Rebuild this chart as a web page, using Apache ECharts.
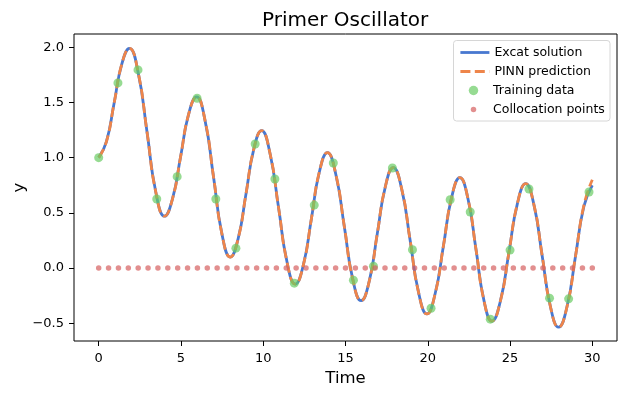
<!DOCTYPE html>
<html>
<head>
<meta charset="utf-8">
<script src="https://cdn.jsdelivr.net/npm/echarts@6/dist/echarts.min.js"></script>
<style>
    html, body { margin: 0; padding: 0; background: #fff; }
    #chart { width: 626px; height: 396px; }
</style>
</head>
<body>
<div id="chart"></div>
<script>
// curve (peaks, troughs and points between them)
const exactT = [0, 0.47, 0.94, 1.40, 1.87, 2.40, 2.94, 3.47, 4.00, 4.49, 4.98, 5.46, 5.95, 6.46, 6.98, 7.49, 8.00, 8.48, 8.95, 9.43, 9.90, 10.41, 10.93, 11.44, 11.95, 12.44, 12.93, 13.41, 13.90, 14.41, 14.93, 15.44, 15.95, 16.44, 16.93, 17.41, 17.90, 18.41, 18.93, 19.44, 19.95, 20.45, 20.95, 21.45, 21.95, 22.44, 22.93, 23.41, 23.90, 24.41, 24.93, 25.44, 25.95, 26.45, 26.95, 27.45, 27.95, 28.46, 28.98, 29.49, 30.00];
const exactY = [1.00, 1.145, 1.495, 1.845, 1.99, 1.77, 1.23, 0.69, 0.47, 0.63, 1.01, 1.39, 1.55, 1.34, 0.825, 0.31, 0.10, 0.27, 0.67, 1.08, 1.245, 1.04, 0.55, 0.06, -0.145, 0.03, 0.45, 0.87, 1.045, 0.85, 0.375, -0.10, -0.295, -0.12, 0.31, 0.73, 0.91, 0.72, 0.25, -0.22, -0.415, -0.23, 0.20, 0.64, 0.82, 0.63, 0.17, -0.29, -0.48, -0.30, 0.14, 0.58, 0.765, 0.575, 0.115, -0.345, -0.535, -0.35, 0.11, 0.56, 0.75];
const pinnY = [1.00, 1.145, 1.495, 1.845, 1.99, 1.77, 1.23, 0.69, 0.47, 0.63, 1.01, 1.39, 1.55, 1.34, 0.825, 0.31, 0.10, 0.27, 0.67, 1.08, 1.245, 1.04, 0.55, 0.06, -0.145, 0.03, 0.45, 0.87, 1.045, 0.85, 0.375, -0.10, -0.295, -0.12, 0.31, 0.73, 0.91, 0.72, 0.25, -0.22, -0.415, -0.23, 0.20, 0.64, 0.82, 0.63, 0.17, -0.29, -0.48, -0.30, 0.14, 0.58, 0.765, 0.575, 0.115, -0.345, -0.535, -0.35, 0.11, 0.57, 0.80];

const trainT = [0, 1.17, 2.39, 3.53, 4.77, 5.98, 7.12, 8.34, 9.51, 10.71, 11.89, 13.10, 14.26, 15.48, 16.70, 17.85, 19.07, 20.20, 21.36, 22.58, 23.80, 25.00, 26.15, 27.40, 28.56, 29.80];
const trainY = [1.00, 1.677, 1.795, 0.626, 0.828, 1.538, 0.626, 0.181, 1.124, 0.807, -0.136, 0.571, 0.952, -0.109, 0.018, 0.907, 0.166, -0.363, 0.619, 0.508, -0.462, 0.163, 0.716, -0.272, -0.278, 0.689];

const collocT = [0, 0.6, 1.2, 1.8, 2.4, 3.0, 3.6, 4.2, 4.8, 5.4, 6.0, 6.6, 7.2, 7.8, 8.4, 9.0, 9.6, 10.2, 10.8, 11.4, 12.0, 12.6, 13.2, 13.8, 14.4, 15.0, 15.6, 16.2, 16.8, 17.4, 18.0, 18.6, 19.2, 19.8, 20.4, 21.0, 21.6, 22.2, 22.8, 23.4, 24.0, 24.6, 25.2, 25.8, 26.4, 27.0, 27.6, 28.2, 28.8, 29.4, 30.0];
const collocY = [0, 0, 0, 0, 0, 0, 0, 0, 0, 0, 0, 0, 0, 0, 0, 0, 0, 0, 0, 0, 0, 0, 0, 0, 0, 0, 0, 0, 0, 0, 0, 0, 0, 0, 0, 0, 0, 0, 0, 0, 0, 0, 0, 0, 0, 0, 0, 0, 0, 0, 0];

const xTicks = [0, 5, 10, 15, 20, 25, 30];
const yTicks = [-0.5, 0, 0.5, 1.0, 1.5, 2.0];

const pairs = (xs, ys) => xs.map((x, i) => [x, ys[i]]);

const font = 'DejaVu Sans';
const chart = echarts.init(document.getElementById('chart'), null, { renderer: 'canvas' });

let legendText = { fontFamily: font, fontSize: 12.5, color: '#000', lineHeight: 14 };

let option = {
    animation: false,
    title: {
        text: 'Primer Oscillator',
        left: 262,
        top: 0,
        padding: [11, 0, 0, 0],
        textStyle: { fontFamily: font, fontSize: 20, fontWeight: 'normal', color: '#000' }
    },
    grid: {
        left: 74, right: 9, top: 34, bottom: 55,
        outerBoundsMode: 'none',
        show: true, borderColor: '#000', borderWidth: 1, backgroundColor: 'transparent'
    },
    // three legends so each marker gets its own size; the item box is laid out
    // from its drawn bounds, so the small circles need a shifted left
    legend: [{
        data: ['Excat solution', 'PINN prediction'],
        orient: 'vertical', left: 459, top: 45.5, padding: 0,
        itemWidth: 29, itemHeight: 14, itemGap: 5,
        itemStyle: { opacity: 0 },
        lineStyle: { width: 2.8 },
        selectedMode: false, textStyle: legendText
    }, {
        data: ['Training data'],
        orient: 'vertical', left: 468.75, top: 83.5, padding: 0,
        itemWidth: 29, itemHeight: 9.5,
        selectedMode: false, textStyle: legendText
    }, {
        data: ['Collocation points'],
        orient: 'vertical', left: 470.75, top: 102.5, padding: 0,
        itemWidth: 29, itemHeight: 5.5,
        selectedMode: false, textStyle: legendText
    }],
    graphic: [{
        type: 'rect', z: 3,
        shape: { x: 453.5, y: 40.5, width: 156.5, height: 80.5, r: 3 },
        style: { fill: 'rgba(255,255,255,0.8)', stroke: '#d6d6d6', lineWidth: 1 }
    }],
    xAxis: {
        type: 'value', min: -1.5, max: 31.5,
        name: 'Time', nameLocation: 'middle', nameGap: 29,
        nameMoveOverlap: false,
        nameTextStyle: { fontFamily: font, fontSize: 16.5, color: '#000' },
        axisLine: { show: false, onZero: false },
        axisTick: { show: true, length: 5, customValues: xTicks, lineStyle: { color: '#000' } },
        axisLabel: { customValues: xTicks, margin: 11, fontFamily: font, fontSize: 13, color: '#000' },
        splitLine: { show: false }
    },
    yAxis: {
        type: 'value', min: -0.66, max: 2.12,
        name: 'y', nameLocation: 'middle', nameGap: 46, nameRotate: 90,
        nameMoveOverlap: false,
        nameTextStyle: { fontFamily: font, fontSize: 16.5, color: '#000' },
        axisLine: { show: false, onZero: false },
        axisTick: { show: true, length: 5, customValues: yTicks, lineStyle: { color: '#000' } },
        axisLabel: {
            customValues: yTicks, margin: 10, fontFamily: font, fontSize: 13, color: '#000',
            formatter: v => (v < 0 ? '\u2212' : '') + Math.abs(v).toFixed(1)
        },
        splitLine: { show: false }
    },
    series: [{
        name: 'Excat solution',
        type: 'line',
        data: pairs(exactT, exactY),
        smooth: 0.5,
        symbol: 'none',
        z: 2,
        lineStyle: { color: '#4878d0', width: 2.8 },
        itemStyle: { color: '#4878d0' }
    }, {
        name: 'PINN prediction',
        type: 'line',
        data: pairs(exactT, pinnY),
        smooth: 0.5,
        symbol: 'none',
        z: 3,
        lineStyle: { color: '#ee854a', width: 2.8, type: [10, 4.4] },
        itemStyle: { color: '#ee854a' }
    }, {
        name: 'Training data',
        type: 'scatter',
        data: pairs(trainT, trainY),
        symbolSize: 9,
        z: 4,
        itemStyle: { color: '#6acc64', opacity: 0.7 }
    }, {
        name: 'Collocation points',
        type: 'scatter',
        data: pairs(collocT, collocY),
        symbolSize: 5.5,
        z: 4,
        itemStyle: { color: '#d65f5f', opacity: 0.7 }
    }]
};

chart.setOption(option);
window.onresize = chart.resize;
</script>
</body>
</html>
